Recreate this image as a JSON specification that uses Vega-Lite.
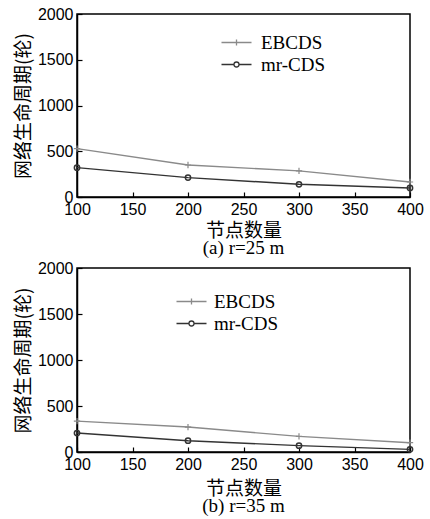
{
  "$schema": "https://vega.github.io/schema/vega-lite/v6.json",
  "padding": {"left": 13, "top": 5, "right": 5, "bottom": 2},
  "background": "white",
  "spacing": 0,
  "datasets": {
    "a": [
      {"nodes": 100, "series": "EBCDS", "life": 529},
      {"nodes": 200, "series": "EBCDS", "life": 350},
      {"nodes": 300, "series": "EBCDS", "life": 285},
      {"nodes": 400, "series": "EBCDS", "life": 164},
      {"nodes": 100, "series": "mr-CDS", "life": 321},
      {"nodes": 200, "series": "mr-CDS", "life": 212},
      {"nodes": 300, "series": "mr-CDS", "life": 139},
      {"nodes": 400, "series": "mr-CDS", "life": 99}
    ],
    "b": [
      {"nodes": 100, "series": "EBCDS", "life": 336},
      {"nodes": 200, "series": "EBCDS", "life": 271},
      {"nodes": 300, "series": "EBCDS", "life": 170},
      {"nodes": 400, "series": "EBCDS", "life": 101},
      {"nodes": 100, "series": "mr-CDS", "life": 206},
      {"nodes": 200, "series": "mr-CDS", "life": 123},
      {"nodes": 300, "series": "mr-CDS", "life": 69},
      {"nodes": 400, "series": "mr-CDS", "life": 29}
    ]
  },
  "vconcat": [
    {
      "width": 333,
      "height": 183,
      "title": {"text": "(a) r=25 m", "orient": "bottom", "anchor": "middle", "font": "Liberation Serif", "fontSize": 19, "fontWeight": "normal", "color": "#000", "offset": -1},
      "data": {"name": "a"},
      "encoding": {
        "x": {"field": "nodes", "type": "quantitative", "title": "节点数量", "scale": {"domain": [100, 400], "nice": false}, "axis": {"values": [100, 150, 200, 250, 300, 350, 400], "format": "d", "titlePadding": 4}},
        "y": {"field": "life", "type": "quantitative", "title": "网络生命周期(轮)", "scale": {"domain": [0, 2000], "nice": false}, "axis": {"values": [0, 500, 1000, 1500, 2000], "format": "d"}},
        "color": {"field": "series", "type": "nominal", "scale": {"domain": ["EBCDS", "mr-CDS"], "range": ["#8a8a8a", "#333333"]}, "legend": {"orient": "none", "legendX": 150, "legendY": 19, "title": null, "padding": 0, "symbolSize": 100, "symbolOpacity": 1, "symbolStrokeWidth": 1.3, "labelOffset": 15, "labelFont": "Liberation Serif", "labelFontSize": 19, "labelColor": "#000", "rowPadding": 2}}
      },
      "layer": [
        {"mark": {"type": "line", "strokeWidth": 1.4}},
        {"transform": [{"filter": "datum.series === 'EBCDS'"}], "mark": {"type": "point", "shape": "M-1,0H1M0,-1V1", "size": 40, "filled": false, "strokeWidth": 1.2, "opacity": 1}},
        {"transform": [{"filter": "datum.series === 'mr-CDS'"}], "mark": {"type": "point", "shape": "circle", "size": 28, "filled": false, "strokeWidth": 1.5, "opacity": 1}},
        {"mark": {"type": "point", "filled": false, "strokeWidth": 1.3, "opacity": 0},
         "encoding": {
           "shape": {"field": "series", "type": "nominal", "scale": {"domain": ["EBCDS", "mr-CDS"], "range": ["M-3,0H3M0,-0.6V0.6", "M-3,0H-0.5M0.5,0H3M-0.5,0A0.5,0.5 0 1,0 0.5,0A0.5,0.5 0 1,0 -0.5,0"]}, "legend": {"orient": "none", "legendX": 150, "legendY": 19, "title": null, "padding": 0, "symbolSize": 100, "symbolOpacity": 1, "symbolStrokeWidth": 1.3, "labelOffset": 15, "labelFont": "Liberation Serif", "labelFontSize": 19, "labelColor": "#000", "rowPadding": 2}}
         }}
      ]
    },
    {
      "width": 333,
      "height": 184,
      "title": {"text": "(b) r=35 m", "orient": "bottom", "anchor": "middle", "font": "Liberation Serif", "fontSize": 19, "fontWeight": "normal", "color": "#000", "offset": -1},
      "data": {"name": "b"},
      "encoding": {
        "x": {"field": "nodes", "type": "quantitative", "title": "节点数量", "scale": {"domain": [100, 400], "nice": false}, "axis": {"values": [100, 150, 200, 250, 300, 350, 400], "format": "d", "titlePadding": 7}},
        "y": {"field": "life", "type": "quantitative", "title": "网络生命周期(轮)", "scale": {"domain": [0, 2000], "nice": false}, "axis": {"values": [0, 500, 1000, 1500, 2000], "format": "d"}},
        "color": {"field": "series", "type": "nominal", "scale": {"domain": ["EBCDS", "mr-CDS"], "range": ["#8a8a8a", "#333333"]}, "legend": {"orient": "none", "legendX": 105, "legendY": 24, "title": null, "padding": 0, "symbolSize": 100, "symbolOpacity": 1, "symbolStrokeWidth": 1.3, "labelOffset": 13, "labelFont": "Liberation Serif", "labelFontSize": 19, "labelColor": "#000", "rowPadding": 2}}
      },
      "layer": [
        {"mark": {"type": "line", "strokeWidth": 1.4}},
        {"transform": [{"filter": "datum.series === 'EBCDS'"}], "mark": {"type": "point", "shape": "M-1,0H1M0,-1V1", "size": 40, "filled": false, "strokeWidth": 1.2, "opacity": 1}},
        {"transform": [{"filter": "datum.series === 'mr-CDS'"}], "mark": {"type": "point", "shape": "circle", "size": 28, "filled": false, "strokeWidth": 1.5, "opacity": 1}},
        {"mark": {"type": "point", "filled": false, "strokeWidth": 1.3, "opacity": 0},
         "encoding": {
           "shape": {"field": "series", "type": "nominal", "scale": {"domain": ["EBCDS", "mr-CDS"], "range": ["M-3,0H3M0,-0.6V0.6", "M-3,0H-0.5M0.5,0H3M-0.5,0A0.5,0.5 0 1,0 0.5,0A0.5,0.5 0 1,0 -0.5,0"]}, "legend": {"orient": "none", "legendX": 105, "legendY": 24, "title": null, "padding": 0, "symbolSize": 100, "symbolOpacity": 1, "symbolStrokeWidth": 1.3, "labelOffset": 13, "labelFont": "Liberation Serif", "labelFontSize": 19, "labelColor": "#000", "rowPadding": 2}}
         }}
      ]
    }
  ],
  "resolve": {"scale": {"color": "independent", "shape": "independent"}, "legend": {"color": "independent", "shape": "independent"}},
  "config": {
    "view": {"stroke": "#000", "strokeWidth": 1.5},
    "legend": {"labelFont": "Liberation Serif", "labelFontSize": 19, "labelColor": "#000"},
    "axis": {
      "grid": false,
      "domainColor": "#000",
      "domainWidth": 1.5,
      "tickColor": "#000",
      "tickWidth": 1.2,
      "tickSize": -5,
      "labelPadding": 9,
      "labelFont": "Liberation Sans",
      "labelFontSize": 16,
      "labelColor": "#000",
      "labelFlush": false,
      "labelOverlap": false,
      "titleFont": "Noto Sans CJK SC",
      "titleFontSize": 19,
      "titleFontWeight": "normal",
      "titleColor": "#000"
    },
    "axisY": {"titlePadding": 4}
  }
}
